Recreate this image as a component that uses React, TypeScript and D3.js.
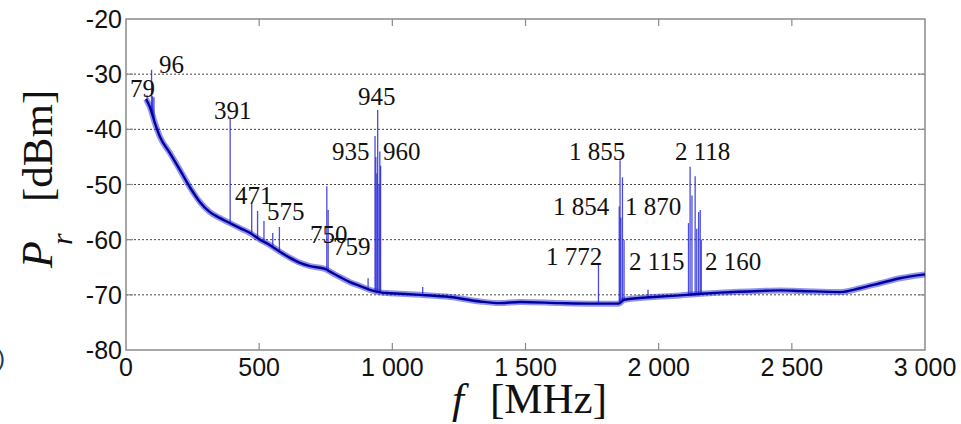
import React from 'react';
import * as d3 from 'd3';

// Noise floor of the received spectrum
const FLOOR_FREQ = [75, 90, 109, 128, 165, 203, 240, 278, 315, 353, 390, 428, 466, 503, 541, 578, 616, 653, 691, 747, 766, 804, 841, 879, 916, 960, 991, 1104, 1217, 1329, 1404, 1480, 1630, 1761, 1850, 1870, 2080, 2160, 2230, 2381, 2456, 2531, 2681, 2756, 2831, 2906, 3000];
const FLOOR_DBM = [-34.5, -36, -38.9, -41.4, -44.3, -47.4, -50.5, -53.2, -55.0, -56.1, -57, -57.9, -58.8, -60, -61, -62.2, -63.3, -64.2, -64.8, -65.3, -65.8, -66.8, -67.7, -68.4, -69.1, -69.6, -69.7, -70, -70.4, -71.2, -71.5, -71.3, -71.5, -71.6, -71.6, -70.9, -70.1, -69.8, -69.6, -69.3, -69.2, -69.3, -69.5, -68.8, -67.9, -67, -66.3];

// Spectral lines (frequency MHz, peak level dBm)
const SPIKE_FREQ = [79, 85, 96, 100, 105, 391, 472, 494, 518, 551, 576, 754, 759, 909, 935, 938, 942, 945, 950, 953, 956, 1114, 1774, 1852, 1855, 1858, 1864, 1870, 1960, 2112, 2118, 2125, 2137, 2143, 2150, 2156, 2160];
const SPIKE_DBM = [-33.8, -35, -29.2, -34, -34.2, -38, -53.4, -54.8, -56.6, -58.8, -57.7, -50.3, -54.6, -67, -41.2, -45, -48, -36.5, -50, -44, -46.6, -68.6, -64.2, -54, -45.6, -56, -48.7, -60, -69.1, -57, -46.8, -52, -48.5, -58, -55, -54.6, -60];

const X_TICKS = [0, 500, 1000, 1500, 2000, 2500, 3000];
const X_TICK_LABELS = ['0', '500', '1 000', '1 500', '2 000', '2 500', '3 000'];
const Y_TICKS = [-80, -70, -60, -50, -40, -30, -20];
const GRID_DBM = [-70, -60, -50, -40, -30];

const PEAK_LABELS = ['79', '96', '391', '471', '575', '750', '759', '945', '935', '960', '1 855', '1 854', '1 870', '1 772', '2 115', '2 118', '2 160'];
const PEAK_LABEL_FREQ = [15, 124, 330, 409, 529, 691, 777, 871, 773, 965, 1663, 1603, 1874, 1577, 1889, 2061, 2174];
const PEAK_LABEL_DBM = [-34.1, -29.8, -38.1, -53.5, -56.4, -60.6, -62.8, -35.6, -45.6, -45.6, -45.6, -55.5, -55.5, -64.6, -65.5, -45.6, -65.5];

export default function App() {
  const W = 961, H = 424;
  const L = 126, R = 925, T = 19, B = 350;
  const x = d3.scaleLinear().domain([0, 3000]).range([L, R]);
  const y = d3.scaleLinear().domain([-80, -20]).range([B, T]);
  const floorAt = d3.scaleLinear().domain(FLOOR_FREQ).range(FLOOR_DBM).clamp(true);
  const pts: [number, number][] = FLOOR_FREQ.map((f, i) => [f, FLOOR_DBM[i]]);
  const line = d3.line<[number, number]>().x(d => x(d[0])).y(d => y(d[1])).curve(d3.curveMonotoneX);
  const floorPath = line(pts) || '';
  const sans = '"Liberation Sans", Arial, sans-serif';
  const serif = '"Liberation Serif", "Times New Roman", serif';
  const frame = '#8a8a8a';

  return (
    <svg width={W} height={H} style={{ position: 'fixed', left: 0, top: 0, background: '#fff' }}>
      <rect x={0} y={0} width={W} height={H} fill="#fff" />
      {/* grid */}
      {GRID_DBM.map(v => (
        <line key={'g' + v} x1={L} x2={R} y1={y(v)} y2={y(v)} stroke="#444" strokeWidth={1} strokeDasharray="2,2" />
      ))}
      {/* frame */}
      <rect x={L} y={T} width={R - L} height={B - T} fill="none" stroke={frame} strokeWidth={1.5} />
      {/* ticks */}
      {X_TICKS.slice(1, -1).map(t => (
        <g key={'xt' + t}>
          <line x1={x(t)} x2={x(t)} y1={B} y2={B - 7} stroke={frame} strokeWidth={1.2} />
          <line x1={x(t)} x2={x(t)} y1={T} y2={T + 7} stroke={frame} strokeWidth={1.2} />
        </g>
      ))}
      {GRID_DBM.map(v => (
        <g key={'yt' + v}>
          <line x1={L} x2={L + 7} y1={y(v)} y2={y(v)} stroke={frame} strokeWidth={1.2} />
          <line x1={R} x2={R - 7} y1={y(v)} y2={y(v)} stroke={frame} strokeWidth={1.2} />
        </g>
      ))}
      {/* spectral lines */}
      {SPIKE_FREQ.map((f, i) => (
        <line key={'s' + i} x1={x(f)} x2={x(f)} y1={y(floorAt(f))} y2={y(SPIKE_DBM[i])}
          stroke="#2a2ad8" strokeWidth={1.3} strokeOpacity={0.85} />
      ))}
      {/* noise floor */}
      <path d={floorPath} fill="none" stroke="#2828d0" strokeOpacity={0.5} strokeWidth={6} strokeLinejoin="round" />
      <path d={floorPath} fill="none" stroke="#0000a0" strokeWidth={2.4} strokeLinejoin="round" />
      {/* peak labels */}
      {PEAK_LABELS.map((s, i) => (
        <text key={'pl' + i} x={x(PEAK_LABEL_FREQ[i])} y={y(PEAK_LABEL_DBM[i])} fontFamily={serif} fontSize={25} fill="#111">{s}</text>
      ))}
      {/* tick labels */}
      {Y_TICKS.map(v => (
        <text key={'yl' + v} x={122} y={y(v) + 9} textAnchor="end" fontFamily={sans} fontSize={25} fill="#111">{v}</text>
      ))}
      {X_TICKS.map((t, i) => (
        <text key={'xl' + t} x={x(t)} y={B + 26} textAnchor="middle" fontFamily={sans} fontSize={25} fill="#111">{X_TICK_LABELS[i]}</text>
      ))}
      {/* axis titles */}
      <text transform="rotate(-90)" fontFamily={serif} fill="#111">
        <tspan x={-268} y={52} fontStyle="italic" fontSize={44}>P</tspan>
        <tspan x={-245} y={72} fontStyle="italic" fontSize={30}>r</tspan>
        <tspan x={-202} y={52} fontSize={43}>[dBm]</tspan>
      </text>
      <text fontFamily={serif} fill="#111">
        <tspan x={452} y={413} fontStyle="italic" fontSize={43}>f</tspan>
        <tspan x={490} y={413} fontSize={43}>[MHz]</tspan>
      </text>
      <text x={-3} y={366} fontFamily={sans} fontSize={24} fill="#1f3864">)</text>
    </svg>
  );
}
